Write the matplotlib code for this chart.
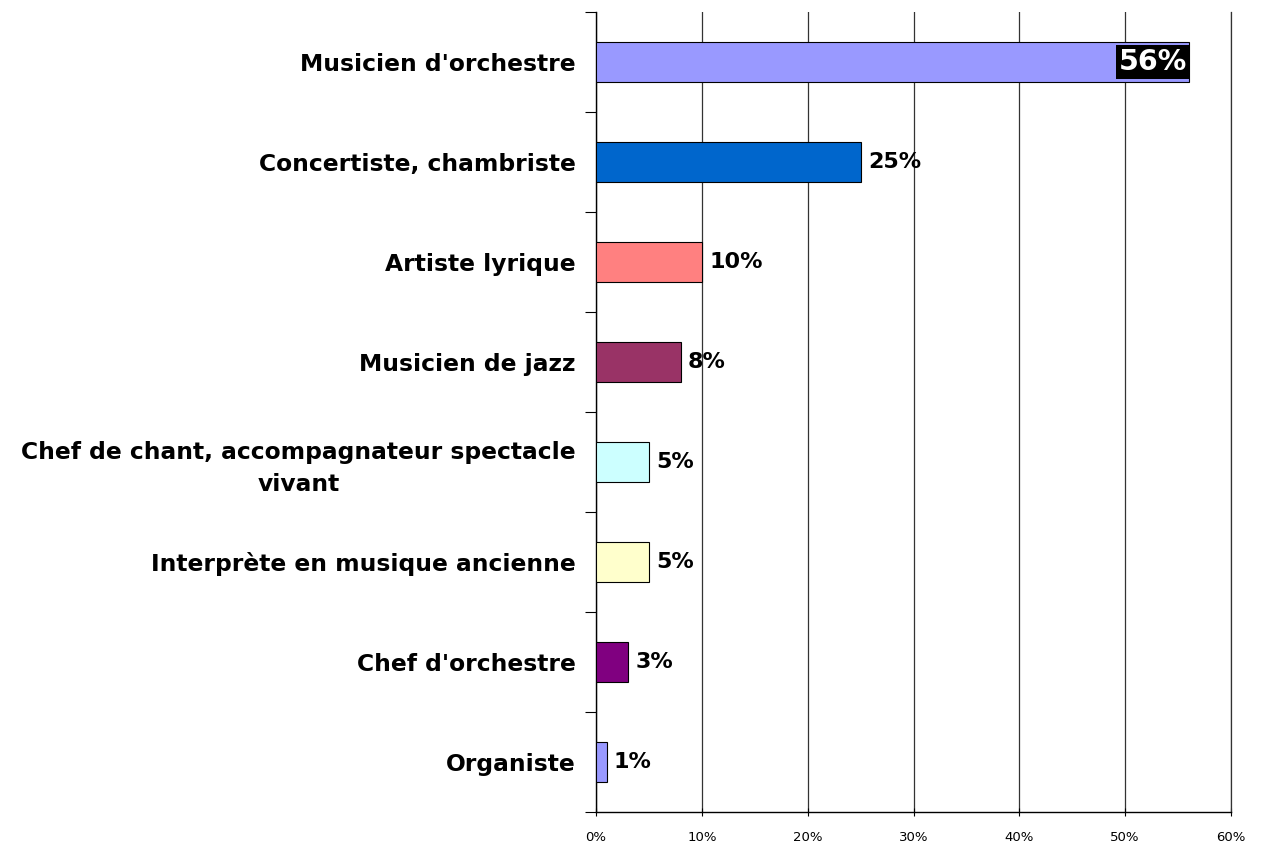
import matplotlib.pyplot as plt
import numpy as np

plt.rcParams['font.family'] = ['DejaVu Sans']

## the data
categories = ["Musicien d'orchestre", "Concertiste, chambriste", "Artiste lyrique",
              "Musicien de jazz", "Chef de chant, accompagnateur spectacle\nvivant",
              "Interprète en musique ancienne", "Chef d'orchestre", "Organiste"]
values = [56, 25, 10, 8, 5, 5, 3, 1]
colors = ['#9999FF', '#0066CC', '#FF8080', '#993366', '#CCFFFF', '#FFFFCC', '#800080', '#9999FF']
xticks = [0, 10, 20, 30, 40, 50, 60]

fig = plt.figure(figsize=(12.65, 8.43), dpi=100)
ax = fig.add_axes([596/1265, 1-812/843, (1231-596)/1265, 800/843])

y = np.arange(len(categories))
ax.barh(y, values, height=0.4, color=colors, edgecolor='black', linewidth=0.8, zorder=3)
ax.set_ylim(len(categories)-0.5, -0.5)
ax.set_xlim(0, 60)

## grid
ax.set_xticks(xticks)
ax.set_xticklabels(['%d%%' % t for t in xticks], fontsize=9.5)
ax.xaxis.grid(True, color='#333333', linewidth=0.9, zorder=0)
ax.spines['top'].set_visible(False)
ax.spines['right'].set_color('#333333')
ax.spines['right'].set_linewidth(0.9)
ax.spines['left'].set_linewidth(1.0)
ax.spines['bottom'].set_linewidth(1.0)
ax.tick_params(axis='x', length=6, direction='inout', pad=11)

## category ticks at boundaries, labels at centers
ax.set_yticks(np.arange(len(categories)+1)-0.5)
ax.set_yticklabels([])
ax.set_yticks(y, minor=True)
ax.set_yticklabels(categories, minor=True, fontsize=16.8, fontweight='bold',
                   multialignment='center', linespacing=1.45)
ax.tick_params(axis='y', which='major', length=8, direction='out')
ax.tick_params(axis='y', which='minor', length=0, pad=14.5)

## value labels
for i, v in enumerate(values):
    if i == 0:
        ax.text(v - 0.15, i, '%d%%' % v, ha='right', va='center', fontsize=20.5,
                fontweight='bold', color='white', zorder=5,
                bbox=dict(facecolor='black', edgecolor='none', pad=2))
    else:
        ax.text(v + 0.7, i, '%d%%' % v, ha='left', va='center', fontsize=16,
                fontweight='bold', color='black', zorder=5)

plt.savefig('out.png', dpi=100)
